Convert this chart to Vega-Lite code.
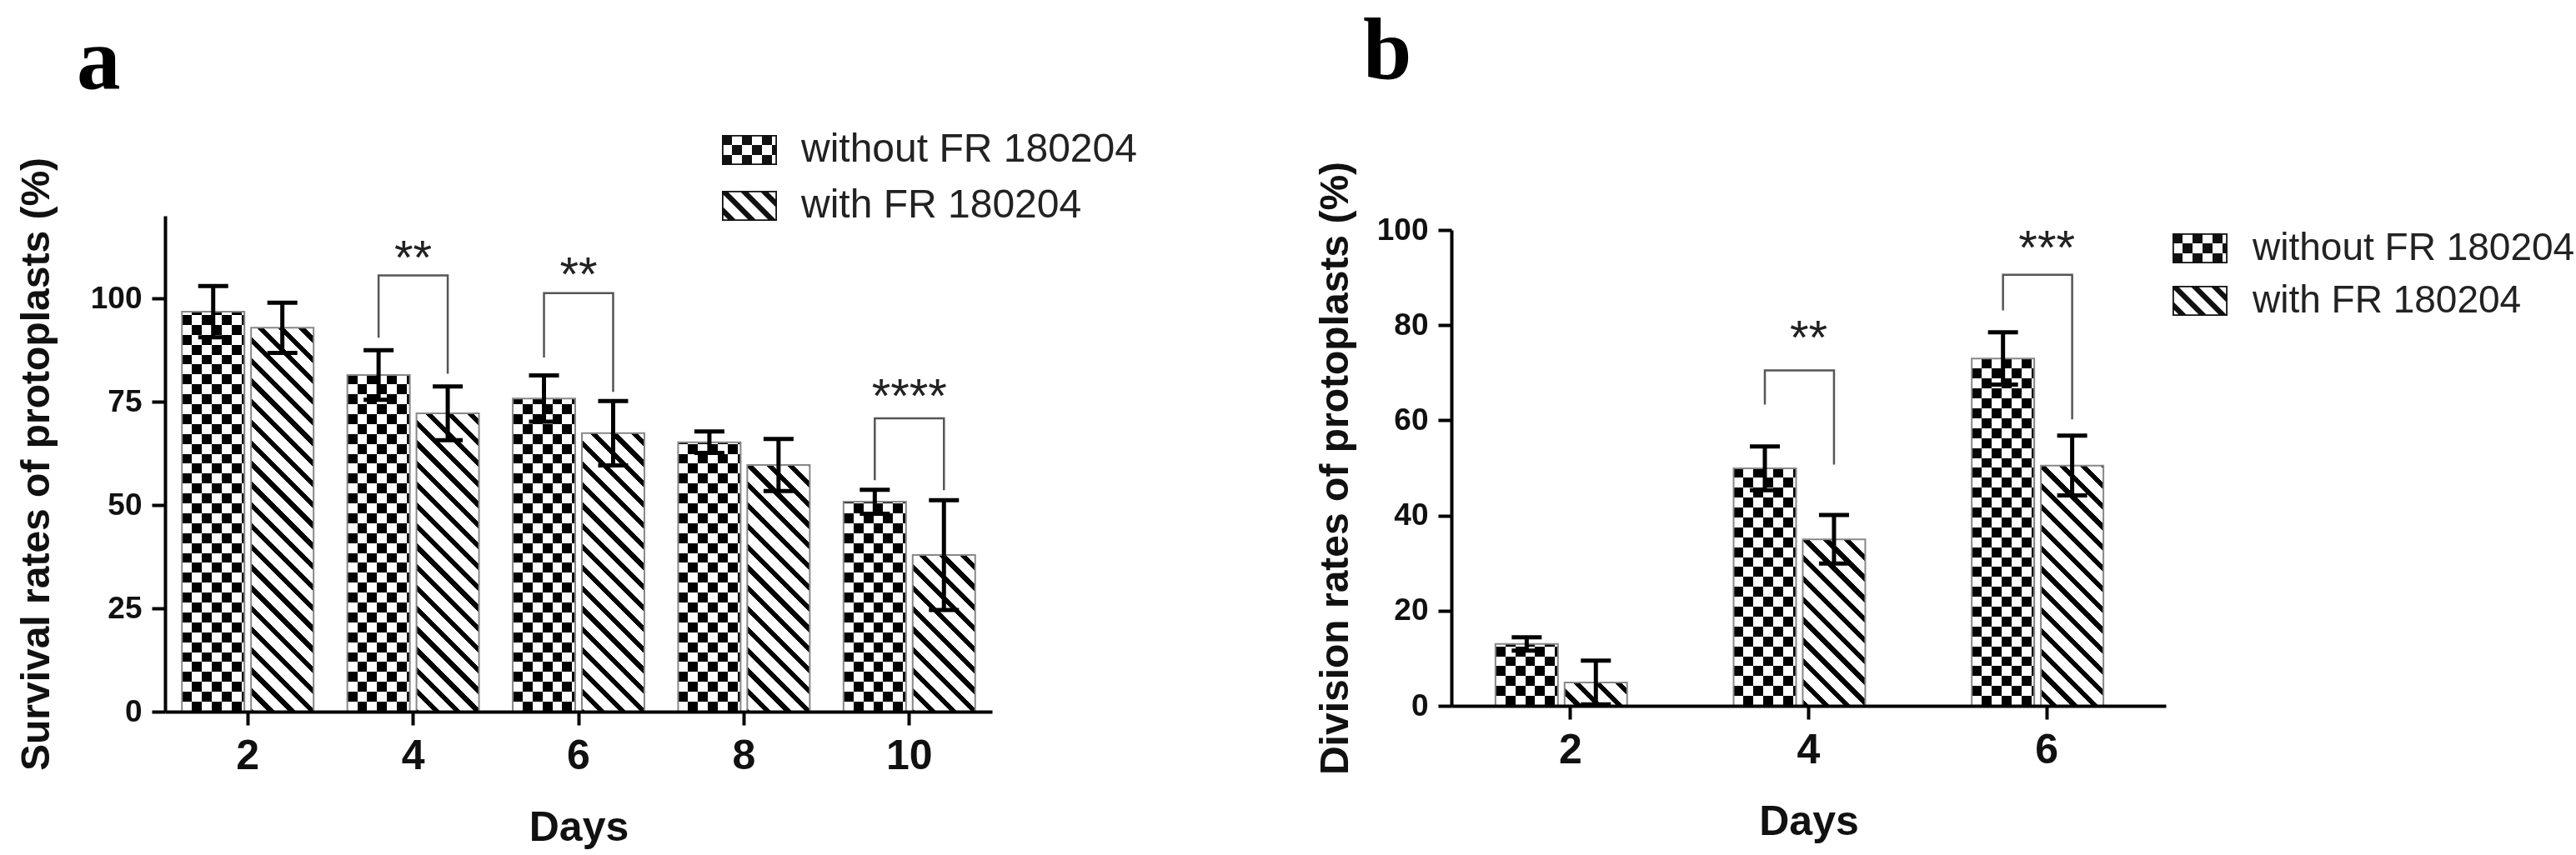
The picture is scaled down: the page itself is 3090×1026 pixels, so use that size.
{
"$schema":"https://vega.github.io/schema/vega-lite/v6.json",
"background":"white",
"padding":{"left":20,"top":10,"right":5,"bottom":5},
"bounds":"flush",
"spacing":551,
"resolve":{"scale":{"shape":"independent"},"legend":{"shape":"independent"}},
"config":{
 "view":{"stroke":null},
 "font":"Liberation Sans",
 "axis":{"domainColor":"#000","domainWidth":4,"tickColor":"#000","tickWidth":4,"tickSize":16,"labelFont":"Liberation Sans","titleFont":"Liberation Sans","labelFontWeight":"bold","labelColor":"#111","titleFontWeight":"bold","titleColor":"#111","grid":false,"zindex":2},
 "axisX":{"labelFontSize":50,"titleFontSize":50,"labelAngle":0,"labelPadding":12,"titlePadding":36},
 "axisY":{"labelFontSize":37,"titleFontSize":48,"labelPadding":12},
 "legend":{"labelFont":"Liberation Sans","labelColor":"#222"},
 "title":{"font":"Liberation Serif","fontSize":105,"fontWeight":"bold","color":"#000","anchor":"start","frame":"group"}
},
"datasets":{
 "survival":[
  {"Day":"2","Treatment":"without FR 180204","mean":96.8,"lo":90.6,"hi":103.0},
  {"Day":"2","Treatment":"with FR 180204","mean":92.9,"lo":86.8,"hi":99.0},
  {"Day":"4","Treatment":"without FR 180204","mean":81.5,"lo":75.5,"hi":87.5},
  {"Day":"4","Treatment":"with FR 180204","mean":72.2,"lo":65.7,"hi":78.7},
  {"Day":"6","Treatment":"without FR 180204","mean":75.8,"lo":70.2,"hi":81.4},
  {"Day":"6","Treatment":"with FR 180204","mean":67.4,"lo":59.6,"hi":75.2},
  {"Day":"8","Treatment":"without FR 180204","mean":65.2,"lo":62.6,"hi":67.8},
  {"Day":"8","Treatment":"with FR 180204","mean":59.7,"lo":53.4,"hi":66.0},
  {"Day":"10","Treatment":"without FR 180204","mean":50.8,"lo":47.9,"hi":53.7},
  {"Day":"10","Treatment":"with FR 180204","mean":37.9,"lo":24.6,"hi":51.2}
 ],
 "division":[
  {"Day":"2","Treatment":"without FR 180204","mean":13.0,"lo":11.6,"hi":14.4},
  {"Day":"2","Treatment":"with FR 180204","mean":4.9,"lo":0.3,"hi":9.5},
  {"Day":"4","Treatment":"without FR 180204","mean":49.9,"lo":45.3,"hi":54.5},
  {"Day":"4","Treatment":"with FR 180204","mean":35.0,"lo":29.9,"hi":40.1},
  {"Day":"6","Treatment":"without FR 180204","mean":73.0,"lo":67.5,"hi":78.5},
  {"Day":"6","Treatment":"with FR 180204","mean":50.5,"lo":44.2,"hi":56.8}
 ],
 "bracketsA":[
  {"id":"d4","Day":"4","Treatment":"without FR 180204","y":90.5,"seq":1},
  {"id":"d4","Day":"4","Treatment":"without FR 180204","y":105.6,"seq":2},
  {"id":"d4","Day":"4","Treatment":"with FR 180204","y":105.6,"seq":3},
  {"id":"d4","Day":"4","Treatment":"with FR 180204","y":81.8,"seq":4},
  {"id":"d6","Day":"6","Treatment":"without FR 180204","y":85.7,"seq":1},
  {"id":"d6","Day":"6","Treatment":"without FR 180204","y":101.3,"seq":2},
  {"id":"d6","Day":"6","Treatment":"with FR 180204","y":101.3,"seq":3},
  {"id":"d6","Day":"6","Treatment":"with FR 180204","y":77.4,"seq":4},
  {"id":"d10","Day":"10","Treatment":"without FR 180204","y":56.0,"seq":1},
  {"id":"d10","Day":"10","Treatment":"without FR 180204","y":71.0,"seq":2},
  {"id":"d10","Day":"10","Treatment":"with FR 180204","y":71.0,"seq":3},
  {"id":"d10","Day":"10","Treatment":"with FR 180204","y":53.6,"seq":4}
 ],
 "bracketsB":[
  {"id":"d4","Day":"4","Treatment":"without FR 180204","y":63.3,"seq":1},
  {"id":"d4","Day":"4","Treatment":"without FR 180204","y":70.5,"seq":2},
  {"id":"d4","Day":"4","Treatment":"with FR 180204","y":70.5,"seq":3},
  {"id":"d4","Day":"4","Treatment":"with FR 180204","y":50.7,"seq":4},
  {"id":"d6","Day":"6","Treatment":"without FR 180204","y":83.1,"seq":1},
  {"id":"d6","Day":"6","Treatment":"without FR 180204","y":90.6,"seq":2},
  {"id":"d6","Day":"6","Treatment":"with FR 180204","y":90.6,"seq":3},
  {"id":"d6","Day":"6","Treatment":"with FR 180204","y":60.2,"seq":4}
 ],
 "starsA":[
  {"Day":"4","label":"**","y":112.4},
  {"Day":"6","label":"**","y":108.3},
  {"Day":"10","label":"****","y":78.8}
 ],
 "starsB":[
  {"Day":"4","label":"**","y":79.5},
  {"Day":"6","label":"***","y":98.5}
 ]
},
"hconcat":[
 {
  "width":992,"height":595,
  "title":{"text":"a","dx":-106,"offset":28},
  "layer":[
   {"data":{"name":"survival"},"transform":[{"filter":{"field":"Treatment","equal":"without FR 180204"}}],
    "mark":{"type":"bar","fill":"#808080","stroke":null},
    "encoding":{
     "x":{"field":"Day","type":"nominal","title":"Days","scale":{"domain":["2","4","6","8","10"],"paddingInner":0.204,"paddingOuter":0.102},"axis":{"labelPadding":12,"titlePadding":36,"zindex":2}},
     "xOffset":{"field":"Treatment","type":"nominal","scale":{"domain":["without FR 180204","with FR 180204"],"paddingInner":0.096,"paddingOuter":0}},
     "y":{"field":"mean","type":"quantitative","title":"Survival rates of protoplasts (%)","scale":{"domain":[0,120],"nice":false},"axis":{"values":[0,25,50,75,100],"titlePadding":40,"zindex":2}}}},
   {"data":{"values":[{}]},
    "mark":{"type":"rect","blend":"overlay","fill":{"gradient":"linear","x1":0,"y1":0,"x2":0,"y2":1,"stops":[{"offset":0,"color":"#000"},{"offset":0.02,"color":"#000"},{"offset":0.02,"color":"#fff"},{"offset":0.04,"color":"#fff"},{"offset":0.04,"color":"#000"},{"offset":0.06,"color":"#000"},{"offset":0.06,"color":"#fff"},{"offset":0.08,"color":"#fff"},{"offset":0.08,"color":"#000"},{"offset":0.1,"color":"#000"},{"offset":0.1,"color":"#fff"},{"offset":0.12,"color":"#fff"},{"offset":0.12,"color":"#000"},{"offset":0.14,"color":"#000"},{"offset":0.14,"color":"#fff"},{"offset":0.16,"color":"#fff"},{"offset":0.16,"color":"#000"},{"offset":0.18,"color":"#000"},{"offset":0.18,"color":"#fff"},{"offset":0.2,"color":"#fff"},{"offset":0.2,"color":"#000"},{"offset":0.22,"color":"#000"},{"offset":0.22,"color":"#fff"},{"offset":0.24,"color":"#fff"},{"offset":0.24,"color":"#000"},{"offset":0.26,"color":"#000"},{"offset":0.26,"color":"#fff"},{"offset":0.28,"color":"#fff"},{"offset":0.28,"color":"#000"},{"offset":0.3,"color":"#000"},{"offset":0.3,"color":"#fff"},{"offset":0.32,"color":"#fff"},{"offset":0.32,"color":"#000"},{"offset":0.34,"color":"#000"},{"offset":0.34,"color":"#fff"},{"offset":0.36,"color":"#fff"},{"offset":0.36,"color":"#000"},{"offset":0.38,"color":"#000"},{"offset":0.38,"color":"#fff"},{"offset":0.4,"color":"#fff"},{"offset":0.4,"color":"#000"},{"offset":0.42,"color":"#000"},{"offset":0.42,"color":"#fff"},{"offset":0.44,"color":"#fff"},{"offset":0.44,"color":"#000"},{"offset":0.46,"color":"#000"},{"offset":0.46,"color":"#fff"},{"offset":0.48,"color":"#fff"},{"offset":0.48,"color":"#000"},{"offset":0.5,"color":"#000"},{"offset":0.5,"color":"#fff"},{"offset":0.52,"color":"#fff"},{"offset":0.52,"color":"#000"},{"offset":0.54,"color":"#000"},{"offset":0.54,"color":"#fff"},{"offset":0.56,"color":"#fff"},{"offset":0.56,"color":"#000"},{"offset":0.58,"color":"#000"},{"offset":0.58,"color":"#fff"},{"offset":0.6,"color":"#fff"},{"offset":0.6,"color":"#000"},{"offset":0.62,"color":"#000"},{"offset":0.62,"color":"#fff"},{"offset":0.64,"color":"#fff"},{"offset":0.64,"color":"#000"},{"offset":0.66,"color":"#000"},{"offset":0.66,"color":"#fff"},{"offset":0.68,"color":"#fff"},{"offset":0.68,"color":"#000"},{"offset":0.7,"color":"#000"},{"offset":0.7,"color":"#fff"},{"offset":0.72,"color":"#fff"},{"offset":0.72,"color":"#000"},{"offset":0.74,"color":"#000"},{"offset":0.74,"color":"#fff"},{"offset":0.76,"color":"#fff"},{"offset":0.76,"color":"#000"},{"offset":0.78,"color":"#000"},{"offset":0.78,"color":"#fff"},{"offset":0.8,"color":"#fff"},{"offset":0.8,"color":"#000"},{"offset":0.82,"color":"#000"},{"offset":0.82,"color":"#fff"},{"offset":0.84,"color":"#fff"},{"offset":0.84,"color":"#000"},{"offset":0.86,"color":"#000"},{"offset":0.86,"color":"#fff"},{"offset":0.88,"color":"#fff"},{"offset":0.88,"color":"#000"},{"offset":0.9,"color":"#000"},{"offset":0.9,"color":"#fff"},{"offset":0.92,"color":"#fff"},{"offset":0.92,"color":"#000"},{"offset":0.94,"color":"#000"},{"offset":0.94,"color":"#fff"},{"offset":0.96,"color":"#fff"},{"offset":0.96,"color":"#000"},{"offset":0.98,"color":"#000"},{"offset":0.98,"color":"#fff"},{"offset":1,"color":"#fff"}]}},
    "encoding":{"y":{"datum":0,"type":"quantitative","title":"Survival rates of protoplasts (%)","scale":{"domain":[0,120],"nice":false}},"y2":{"datum":120}}},
   {"data":{"name":"survival"},"transform":[{"filter":{"field":"Treatment","equal":"without FR 180204"}}],
    "mark":{"type":"bar","blend":"difference","stroke":null,"fill":{"gradient":"linear","x1":0,"y1":0,"x2":1,"y2":0,"stops":[{"offset":0,"color":"#000"},{"offset":0.159,"color":"#000"},{"offset":0.159,"color":"#fff"},{"offset":0.317,"color":"#fff"},{"offset":0.317,"color":"#000"},{"offset":0.476,"color":"#000"},{"offset":0.476,"color":"#fff"},{"offset":0.635,"color":"#fff"},{"offset":0.635,"color":"#000"},{"offset":0.793,"color":"#000"},{"offset":0.793,"color":"#fff"},{"offset":0.952,"color":"#fff"},{"offset":0.952,"color":"#000"},{"offset":1,"color":"#000"}]}},
    "encoding":{
     "x":{"field":"Day","type":"nominal","title":"Days","scale":{"domain":["2","4","6","8","10"],"paddingInner":0.204,"paddingOuter":0.102}},
     "xOffset":{"field":"Treatment","type":"nominal","scale":{"domain":["without FR 180204","with FR 180204"],"paddingInner":0.096,"paddingOuter":0}},
     "y":{"field":"mean","type":"quantitative","title":"Survival rates of protoplasts (%)","scale":{"domain":[0,120],"nice":false}}}},
   {"data":{"name":"survival"},"transform":[{"filter":{"field":"Treatment","equal":"with FR 180204"}}],
    "mark":{"type":"bar","fill":"#808080","stroke":null},
    "encoding":{
     "x":{"field":"Day","type":"nominal","title":"Days","scale":{"domain":["2","4","6","8","10"],"paddingInner":0.204,"paddingOuter":0.102}},
     "xOffset":{"field":"Treatment","type":"nominal","scale":{"domain":["without FR 180204","with FR 180204"],"paddingInner":0.096,"paddingOuter":0}},
     "y":{"field":"mean","type":"quantitative","title":"Survival rates of protoplasts (%)","scale":{"domain":[0,120],"nice":false}}}},
   {"data":{"values":[{}]},
    "mark":{"type":"rect","blend":"overlay","fill":{"gradient":"linear","x1":0,"y1":1,"x2":1.17651,"y2":0.29433,"stops":[{"offset":0.046875,"color":"#000"},{"offset":0.052083,"color":"#000"},{"offset":0.052083,"color":"#fff"},{"offset":0.0625,"color":"#fff"},{"offset":0.0625,"color":"#000"},{"offset":0.067708,"color":"#000"},{"offset":0.067708,"color":"#fff"},{"offset":0.078125,"color":"#fff"},{"offset":0.078125,"color":"#000"},{"offset":0.083333,"color":"#000"},{"offset":0.083333,"color":"#fff"},{"offset":0.09375,"color":"#fff"},{"offset":0.09375,"color":"#000"},{"offset":0.098958,"color":"#000"},{"offset":0.098958,"color":"#fff"},{"offset":0.109375,"color":"#fff"},{"offset":0.109375,"color":"#000"},{"offset":0.114583,"color":"#000"},{"offset":0.114583,"color":"#fff"},{"offset":0.125,"color":"#fff"},{"offset":0.125,"color":"#000"},{"offset":0.130208,"color":"#000"},{"offset":0.130208,"color":"#fff"},{"offset":0.140625,"color":"#fff"},{"offset":0.140625,"color":"#000"},{"offset":0.145833,"color":"#000"},{"offset":0.145833,"color":"#fff"},{"offset":0.15625,"color":"#fff"},{"offset":0.15625,"color":"#000"},{"offset":0.161458,"color":"#000"},{"offset":0.161458,"color":"#fff"},{"offset":0.171875,"color":"#fff"},{"offset":0.171875,"color":"#000"},{"offset":0.177083,"color":"#000"},{"offset":0.177083,"color":"#fff"},{"offset":0.1875,"color":"#fff"},{"offset":0.1875,"color":"#000"},{"offset":0.192708,"color":"#000"},{"offset":0.192708,"color":"#fff"},{"offset":0.203125,"color":"#fff"},{"offset":0.203125,"color":"#000"},{"offset":0.208333,"color":"#000"},{"offset":0.208333,"color":"#fff"},{"offset":0.21875,"color":"#fff"},{"offset":0.21875,"color":"#000"},{"offset":0.223958,"color":"#000"},{"offset":0.223958,"color":"#fff"},{"offset":0.234375,"color":"#fff"},{"offset":0.234375,"color":"#000"},{"offset":0.239583,"color":"#000"},{"offset":0.239583,"color":"#fff"},{"offset":0.25,"color":"#fff"},{"offset":0.25,"color":"#000"},{"offset":0.255208,"color":"#000"},{"offset":0.255208,"color":"#fff"},{"offset":0.265625,"color":"#fff"},{"offset":0.265625,"color":"#000"},{"offset":0.270833,"color":"#000"},{"offset":0.270833,"color":"#fff"},{"offset":0.28125,"color":"#fff"},{"offset":0.28125,"color":"#000"},{"offset":0.286458,"color":"#000"},{"offset":0.286458,"color":"#fff"},{"offset":0.296875,"color":"#fff"},{"offset":0.296875,"color":"#000"},{"offset":0.302083,"color":"#000"},{"offset":0.302083,"color":"#fff"},{"offset":0.3125,"color":"#fff"},{"offset":0.3125,"color":"#000"},{"offset":0.317708,"color":"#000"},{"offset":0.317708,"color":"#fff"},{"offset":0.328125,"color":"#fff"},{"offset":0.328125,"color":"#000"},{"offset":0.333333,"color":"#000"},{"offset":0.333333,"color":"#fff"},{"offset":0.34375,"color":"#fff"},{"offset":0.34375,"color":"#000"},{"offset":0.348958,"color":"#000"},{"offset":0.348958,"color":"#fff"},{"offset":0.359375,"color":"#fff"},{"offset":0.359375,"color":"#000"},{"offset":0.364583,"color":"#000"},{"offset":0.364583,"color":"#fff"},{"offset":0.375,"color":"#fff"},{"offset":0.375,"color":"#000"},{"offset":0.380208,"color":"#000"},{"offset":0.380208,"color":"#fff"},{"offset":0.390625,"color":"#fff"},{"offset":0.390625,"color":"#000"},{"offset":0.395833,"color":"#000"},{"offset":0.395833,"color":"#fff"},{"offset":0.40625,"color":"#fff"},{"offset":0.40625,"color":"#000"},{"offset":0.411458,"color":"#000"},{"offset":0.411458,"color":"#fff"},{"offset":0.421875,"color":"#fff"},{"offset":0.421875,"color":"#000"},{"offset":0.427083,"color":"#000"},{"offset":0.427083,"color":"#fff"},{"offset":0.4375,"color":"#fff"},{"offset":0.4375,"color":"#000"},{"offset":0.442708,"color":"#000"},{"offset":0.442708,"color":"#fff"},{"offset":0.453125,"color":"#fff"},{"offset":0.453125,"color":"#000"},{"offset":0.458333,"color":"#000"},{"offset":0.458333,"color":"#fff"},{"offset":0.46875,"color":"#fff"},{"offset":0.46875,"color":"#000"},{"offset":0.473958,"color":"#000"},{"offset":0.473958,"color":"#fff"},{"offset":0.484375,"color":"#fff"},{"offset":0.484375,"color":"#000"},{"offset":0.489583,"color":"#000"},{"offset":0.489583,"color":"#fff"},{"offset":0.5,"color":"#fff"},{"offset":0.5,"color":"#000"},{"offset":0.505208,"color":"#000"},{"offset":0.505208,"color":"#fff"},{"offset":0.515625,"color":"#fff"},{"offset":0.515625,"color":"#000"},{"offset":0.520833,"color":"#000"},{"offset":0.520833,"color":"#fff"},{"offset":0.53125,"color":"#fff"},{"offset":0.53125,"color":"#000"},{"offset":0.536458,"color":"#000"},{"offset":0.536458,"color":"#fff"},{"offset":0.546875,"color":"#fff"},{"offset":0.546875,"color":"#000"},{"offset":0.552083,"color":"#000"},{"offset":0.552083,"color":"#fff"},{"offset":0.5625,"color":"#fff"},{"offset":0.5625,"color":"#000"},{"offset":0.567708,"color":"#000"},{"offset":0.567708,"color":"#fff"},{"offset":0.578125,"color":"#fff"},{"offset":0.578125,"color":"#000"},{"offset":0.583333,"color":"#000"},{"offset":0.583333,"color":"#fff"},{"offset":0.59375,"color":"#fff"},{"offset":0.59375,"color":"#000"},{"offset":0.598958,"color":"#000"},{"offset":0.598958,"color":"#fff"},{"offset":0.609375,"color":"#fff"},{"offset":0.609375,"color":"#000"},{"offset":0.614583,"color":"#000"},{"offset":0.614583,"color":"#fff"},{"offset":0.625,"color":"#fff"},{"offset":0.625,"color":"#000"},{"offset":0.630208,"color":"#000"},{"offset":0.630208,"color":"#fff"},{"offset":0.640625,"color":"#fff"},{"offset":0.640625,"color":"#000"},{"offset":0.645833,"color":"#000"},{"offset":0.645833,"color":"#fff"},{"offset":0.65625,"color":"#fff"},{"offset":0.65625,"color":"#000"},{"offset":0.661458,"color":"#000"},{"offset":0.661458,"color":"#fff"},{"offset":0.671875,"color":"#fff"},{"offset":0.671875,"color":"#000"},{"offset":0.677083,"color":"#000"},{"offset":0.677083,"color":"#fff"},{"offset":0.6875,"color":"#fff"},{"offset":0.6875,"color":"#000"},{"offset":0.692708,"color":"#000"},{"offset":0.692708,"color":"#fff"},{"offset":0.703125,"color":"#fff"},{"offset":0.703125,"color":"#000"},{"offset":0.708333,"color":"#000"},{"offset":0.708333,"color":"#fff"},{"offset":0.71875,"color":"#fff"},{"offset":0.71875,"color":"#000"},{"offset":0.723958,"color":"#000"},{"offset":0.723958,"color":"#fff"},{"offset":0.734375,"color":"#fff"},{"offset":0.734375,"color":"#000"},{"offset":0.739583,"color":"#000"},{"offset":0.739583,"color":"#fff"},{"offset":0.75,"color":"#fff"}]}},
    "encoding":{"y":{"datum":0,"type":"quantitative","title":"Survival rates of protoplasts (%)","scale":{"domain":[0,120],"nice":false}},"y2":{"datum":120}}},
   {"data":{"name":"survival"},
    "mark":{"type":"bar","fillOpacity":0,"stroke":"#888","strokeWidth":2},
    "encoding":{
     "x":{"field":"Day","type":"nominal","title":"Days","scale":{"domain":["2","4","6","8","10"],"paddingInner":0.204,"paddingOuter":0.102}},
     "xOffset":{"field":"Treatment","type":"nominal","scale":{"domain":["without FR 180204","with FR 180204"],"paddingInner":0.096,"paddingOuter":0}},
     "y":{"field":"mean","type":"quantitative","title":"Survival rates of protoplasts (%)","scale":{"domain":[0,120],"nice":false}}}},
   {"data":{"name":"survival"},
    "mark":{"type":"rule","stroke":"#000","strokeWidth":5},
    "encoding":{
     "x":{"field":"Day","type":"nominal","title":"Days","scale":{"domain":["2","4","6","8","10"],"paddingInner":0.204,"paddingOuter":0.102}},
     "xOffset":{"field":"Treatment","type":"nominal","scale":{"domain":["without FR 180204","with FR 180204"],"paddingInner":0.096,"paddingOuter":0}},
     "y":{"field":"lo","type":"quantitative","title":"Survival rates of protoplasts (%)","scale":{"domain":[0,120],"nice":false}},
     "y2":{"field":"hi"}}},
   {"data":{"name":"survival"},
    "mark":{"type":"tick","color":"#000","size":36,"thickness":5,"opacity":1},
    "encoding":{
     "x":{"field":"Day","type":"nominal","title":"Days","scale":{"domain":["2","4","6","8","10"],"paddingInner":0.204,"paddingOuter":0.102}},
     "xOffset":{"field":"Treatment","type":"nominal","scale":{"domain":["without FR 180204","with FR 180204"],"paddingInner":0.096,"paddingOuter":0}},
     "y":{"field":"lo","type":"quantitative","title":"Survival rates of protoplasts (%)","scale":{"domain":[0,120],"nice":false}}}},
   {"data":{"name":"survival"},
    "mark":{"type":"tick","color":"#000","size":36,"thickness":5,"opacity":1},
    "encoding":{
     "x":{"field":"Day","type":"nominal","title":"Days","scale":{"domain":["2","4","6","8","10"],"paddingInner":0.204,"paddingOuter":0.102}},
     "xOffset":{"field":"Treatment","type":"nominal","scale":{"domain":["without FR 180204","with FR 180204"],"paddingInner":0.096,"paddingOuter":0}},
     "y":{"field":"hi","type":"quantitative","title":"Survival rates of protoplasts (%)","scale":{"domain":[0,120],"nice":false}}}},
   {"data":{"name":"bracketsA"},
    "mark":{"type":"line","stroke":"#555","strokeWidth":2.5},
    "encoding":{
     "x":{"field":"Day","type":"nominal","title":"Days","scale":{"domain":["2","4","6","8","10"],"paddingInner":0.204,"paddingOuter":0.102}},
     "xOffset":{"field":"Treatment","type":"nominal","scale":{"domain":["without FR 180204","with FR 180204"],"paddingInner":0.096,"paddingOuter":0}},
     "y":{"field":"y","type":"quantitative","title":"Survival rates of protoplasts (%)","scale":{"domain":[0,120],"nice":false}},
     "detail":{"field":"id"},
     "order":{"field":"seq","type":"quantitative"}}},
   {"data":{"name":"starsA"},
    "mark":{"type":"text","font":"Liberation Sans","fontSize":58,"color":"#222","baseline":"alphabetic","dy":32},
    "encoding":{
     "x":{"field":"Day","type":"nominal","title":"Days","scale":{"domain":["2","4","6","8","10"],"paddingInner":0.204,"paddingOuter":0.102}},
     "y":{"field":"y","type":"quantitative","title":"Survival rates of protoplasts (%)","scale":{"domain":[0,120],"nice":false}},
     "text":{"field":"label"}}},
   {"data":{"name":"survival"},
    "mark":{"type":"point","filled":true,"opacity":0,"size":10,"color":"#111"},
    "encoding":{
     "x":{"field":"Day","type":"nominal","title":"Days","scale":{"domain":["2","4","6","8","10"],"paddingInner":0.204,"paddingOuter":0.102}},
     "xOffset":{"field":"Treatment","type":"nominal","scale":{"domain":["without FR 180204","with FR 180204"],"paddingInner":0.096,"paddingOuter":0}},
     "y":{"field":"mean","type":"quantitative","title":"Survival rates of protoplasts (%)","scale":{"domain":[0,120],"nice":false}},
     "shape":{"field":"Treatment","type":"nominal","scale":{"domain":["without FR 180204","with FR 180204"],"range":["M-5.5,-3H5.5V3H-5.5Z M-5.2,-2.7V2.7H5.2V-2.7Z M-5.5,-3h2v2h-2Z M-1.5,-3h2v2h-2Z M2.5,-3h2v2h-2Z M-3.5,-1h2v2h-2Z M0.5,-1h2v2h-2Z M4.5,-1h1v2h-1Z M-5.5,1h2v2h-2Z M-1.5,1h2v2h-2Z M2.5,1h2v2h-2Z","M-5.5,-3H5.5V3H-5.5Z M-5.2,-2.7V2.7H5.2V-2.7Z M-5.5,0L-2.5,3L-4,3L-5.5,1.5Z M-5.5,-2.5L-5.5,-3L-4.5,-3L1.5,3L0,3Z M-2,-3L-0.5,-3L5.5,3L4,3Z M2,-3L3.5,-3L5.5,-1L5.5,0.5Z"]},
      "legend":{"orient":"none","legendX":677,"legendY":-103,"title":null,"symbolSize":144,"symbolFillColor":"#111","labelFontSize":48,"labelOffset":38,"rowPadding":19,"labelLimit":2000,"padding":0,
       "encode":{"symbols":{"update":{"fill":{"value":"#111"},"opacity":{"value":1},"fillOpacity":{"value":1},"strokeWidth":{"value":0}}}}}}}}
  ]
 },
 {
  "width":857,"height":588,
  "title":{"text":"b","dx":-106,"offset":0},
  "layer":[
   {"data":{"name":"division"},"transform":[{"filter":{"field":"Treatment","equal":"without FR 180204"}}],
    "mark":{"type":"bar","fill":"#808080","stroke":null},
    "encoding":{
     "x":{"field":"Day","type":"nominal","title":"Days","scale":{"domain":["2","4","6"],"paddingInner":0.37,"paddingOuter":0.185},"axis":{"labelPadding":12,"titlePadding":36,"zindex":2}},
     "xOffset":{"field":"Treatment","type":"nominal","scale":{"domain":["without FR 180204","with FR 180204"],"paddingInner":0.302,"paddingOuter":0}},
     "y":{"field":"mean","type":"quantitative","title":"Division rates of protoplasts (%)","scale":{"domain":[0,100],"range":[588,17],"nice":false},"axis":{"values":[0,20,40,60,80,100],"titlePadding":25,"zindex":2}}}},
   {"data":{"values":[{}]},
    "mark":{"type":"rect","blend":"overlay","fill":{"gradient":"linear","x1":0,"y1":0,"x2":0,"y2":1,"stops":[{"offset":0,"color":"#000"},{"offset":0.02,"color":"#000"},{"offset":0.02,"color":"#fff"},{"offset":0.04,"color":"#fff"},{"offset":0.04,"color":"#000"},{"offset":0.06,"color":"#000"},{"offset":0.06,"color":"#fff"},{"offset":0.08,"color":"#fff"},{"offset":0.08,"color":"#000"},{"offset":0.1,"color":"#000"},{"offset":0.1,"color":"#fff"},{"offset":0.12,"color":"#fff"},{"offset":0.12,"color":"#000"},{"offset":0.14,"color":"#000"},{"offset":0.14,"color":"#fff"},{"offset":0.16,"color":"#fff"},{"offset":0.16,"color":"#000"},{"offset":0.18,"color":"#000"},{"offset":0.18,"color":"#fff"},{"offset":0.2,"color":"#fff"},{"offset":0.2,"color":"#000"},{"offset":0.22,"color":"#000"},{"offset":0.22,"color":"#fff"},{"offset":0.24,"color":"#fff"},{"offset":0.24,"color":"#000"},{"offset":0.26,"color":"#000"},{"offset":0.26,"color":"#fff"},{"offset":0.28,"color":"#fff"},{"offset":0.28,"color":"#000"},{"offset":0.3,"color":"#000"},{"offset":0.3,"color":"#fff"},{"offset":0.32,"color":"#fff"},{"offset":0.32,"color":"#000"},{"offset":0.34,"color":"#000"},{"offset":0.34,"color":"#fff"},{"offset":0.36,"color":"#fff"},{"offset":0.36,"color":"#000"},{"offset":0.38,"color":"#000"},{"offset":0.38,"color":"#fff"},{"offset":0.4,"color":"#fff"},{"offset":0.4,"color":"#000"},{"offset":0.42,"color":"#000"},{"offset":0.42,"color":"#fff"},{"offset":0.44,"color":"#fff"},{"offset":0.44,"color":"#000"},{"offset":0.46,"color":"#000"},{"offset":0.46,"color":"#fff"},{"offset":0.48,"color":"#fff"},{"offset":0.48,"color":"#000"},{"offset":0.5,"color":"#000"},{"offset":0.5,"color":"#fff"},{"offset":0.52,"color":"#fff"},{"offset":0.52,"color":"#000"},{"offset":0.54,"color":"#000"},{"offset":0.54,"color":"#fff"},{"offset":0.56,"color":"#fff"},{"offset":0.56,"color":"#000"},{"offset":0.58,"color":"#000"},{"offset":0.58,"color":"#fff"},{"offset":0.6,"color":"#fff"},{"offset":0.6,"color":"#000"},{"offset":0.62,"color":"#000"},{"offset":0.62,"color":"#fff"},{"offset":0.64,"color":"#fff"},{"offset":0.64,"color":"#000"},{"offset":0.66,"color":"#000"},{"offset":0.66,"color":"#fff"},{"offset":0.68,"color":"#fff"},{"offset":0.68,"color":"#000"},{"offset":0.7,"color":"#000"},{"offset":0.7,"color":"#fff"},{"offset":0.72,"color":"#fff"},{"offset":0.72,"color":"#000"},{"offset":0.74,"color":"#000"},{"offset":0.74,"color":"#fff"},{"offset":0.76,"color":"#fff"},{"offset":0.76,"color":"#000"},{"offset":0.78,"color":"#000"},{"offset":0.78,"color":"#fff"},{"offset":0.8,"color":"#fff"},{"offset":0.8,"color":"#000"},{"offset":0.82,"color":"#000"},{"offset":0.82,"color":"#fff"},{"offset":0.84,"color":"#fff"},{"offset":0.84,"color":"#000"},{"offset":0.86,"color":"#000"},{"offset":0.86,"color":"#fff"},{"offset":0.88,"color":"#fff"},{"offset":0.88,"color":"#000"},{"offset":0.9,"color":"#000"},{"offset":0.9,"color":"#fff"},{"offset":0.92,"color":"#fff"},{"offset":0.92,"color":"#000"},{"offset":0.94,"color":"#000"},{"offset":0.94,"color":"#fff"},{"offset":0.96,"color":"#fff"},{"offset":0.96,"color":"#000"},{"offset":0.98,"color":"#000"},{"offset":0.98,"color":"#fff"},{"offset":1,"color":"#fff"}]}},
    "encoding":{"y":{"datum":0,"type":"quantitative","title":"Division rates of protoplasts (%)","scale":{"domain":[0,100],"range":[588,17],"nice":false}},"y2":{"datum":104.2}}},
   {"data":{"name":"division"},"transform":[{"filter":{"field":"Treatment","equal":"without FR 180204"}}],
    "mark":{"type":"bar","blend":"difference","stroke":null,"fill":{"gradient":"linear","x1":0,"y1":0,"x2":1,"y2":0,"stops":[{"offset":0,"color":"#000"},{"offset":0.159,"color":"#000"},{"offset":0.159,"color":"#fff"},{"offset":0.317,"color":"#fff"},{"offset":0.317,"color":"#000"},{"offset":0.476,"color":"#000"},{"offset":0.476,"color":"#fff"},{"offset":0.635,"color":"#fff"},{"offset":0.635,"color":"#000"},{"offset":0.793,"color":"#000"},{"offset":0.793,"color":"#fff"},{"offset":0.952,"color":"#fff"},{"offset":0.952,"color":"#000"},{"offset":1,"color":"#000"}]}},
    "encoding":{
     "x":{"field":"Day","type":"nominal","title":"Days","scale":{"domain":["2","4","6"],"paddingInner":0.37,"paddingOuter":0.185}},
     "xOffset":{"field":"Treatment","type":"nominal","scale":{"domain":["without FR 180204","with FR 180204"],"paddingInner":0.302,"paddingOuter":0}},
     "y":{"field":"mean","type":"quantitative","title":"Division rates of protoplasts (%)","scale":{"domain":[0,100],"range":[588,17],"nice":false}}}},
   {"data":{"name":"division"},"transform":[{"filter":{"field":"Treatment","equal":"with FR 180204"}}],
    "mark":{"type":"bar","fill":"#808080","stroke":null},
    "encoding":{
     "x":{"field":"Day","type":"nominal","title":"Days","scale":{"domain":["2","4","6"],"paddingInner":0.37,"paddingOuter":0.185}},
     "xOffset":{"field":"Treatment","type":"nominal","scale":{"domain":["without FR 180204","with FR 180204"],"paddingInner":0.302,"paddingOuter":0}},
     "y":{"field":"mean","type":"quantitative","title":"Division rates of protoplasts (%)","scale":{"domain":[0,100],"range":[588,17],"nice":false}}}},
   {"data":{"values":[{}]},
    "mark":{"type":"rect","blend":"overlay","fill":{"gradient":"linear","x1":0,"y1":1,"x2":1.07315,"y2":0.08587,"stops":[{"offset":0.046875,"color":"#000"},{"offset":0.052083,"color":"#000"},{"offset":0.052083,"color":"#fff"},{"offset":0.0625,"color":"#fff"},{"offset":0.0625,"color":"#000"},{"offset":0.067708,"color":"#000"},{"offset":0.067708,"color":"#fff"},{"offset":0.078125,"color":"#fff"},{"offset":0.078125,"color":"#000"},{"offset":0.083333,"color":"#000"},{"offset":0.083333,"color":"#fff"},{"offset":0.09375,"color":"#fff"},{"offset":0.09375,"color":"#000"},{"offset":0.098958,"color":"#000"},{"offset":0.098958,"color":"#fff"},{"offset":0.109375,"color":"#fff"},{"offset":0.109375,"color":"#000"},{"offset":0.114583,"color":"#000"},{"offset":0.114583,"color":"#fff"},{"offset":0.125,"color":"#fff"},{"offset":0.125,"color":"#000"},{"offset":0.130208,"color":"#000"},{"offset":0.130208,"color":"#fff"},{"offset":0.140625,"color":"#fff"},{"offset":0.140625,"color":"#000"},{"offset":0.145833,"color":"#000"},{"offset":0.145833,"color":"#fff"},{"offset":0.15625,"color":"#fff"},{"offset":0.15625,"color":"#000"},{"offset":0.161458,"color":"#000"},{"offset":0.161458,"color":"#fff"},{"offset":0.171875,"color":"#fff"},{"offset":0.171875,"color":"#000"},{"offset":0.177083,"color":"#000"},{"offset":0.177083,"color":"#fff"},{"offset":0.1875,"color":"#fff"},{"offset":0.1875,"color":"#000"},{"offset":0.192708,"color":"#000"},{"offset":0.192708,"color":"#fff"},{"offset":0.203125,"color":"#fff"},{"offset":0.203125,"color":"#000"},{"offset":0.208333,"color":"#000"},{"offset":0.208333,"color":"#fff"},{"offset":0.21875,"color":"#fff"},{"offset":0.21875,"color":"#000"},{"offset":0.223958,"color":"#000"},{"offset":0.223958,"color":"#fff"},{"offset":0.234375,"color":"#fff"},{"offset":0.234375,"color":"#000"},{"offset":0.239583,"color":"#000"},{"offset":0.239583,"color":"#fff"},{"offset":0.25,"color":"#fff"},{"offset":0.25,"color":"#000"},{"offset":0.255208,"color":"#000"},{"offset":0.255208,"color":"#fff"},{"offset":0.265625,"color":"#fff"},{"offset":0.265625,"color":"#000"},{"offset":0.270833,"color":"#000"},{"offset":0.270833,"color":"#fff"},{"offset":0.28125,"color":"#fff"},{"offset":0.28125,"color":"#000"},{"offset":0.286458,"color":"#000"},{"offset":0.286458,"color":"#fff"},{"offset":0.296875,"color":"#fff"},{"offset":0.296875,"color":"#000"},{"offset":0.302083,"color":"#000"},{"offset":0.302083,"color":"#fff"},{"offset":0.3125,"color":"#fff"},{"offset":0.3125,"color":"#000"},{"offset":0.317708,"color":"#000"},{"offset":0.317708,"color":"#fff"},{"offset":0.328125,"color":"#fff"},{"offset":0.328125,"color":"#000"},{"offset":0.333333,"color":"#000"},{"offset":0.333333,"color":"#fff"},{"offset":0.34375,"color":"#fff"},{"offset":0.34375,"color":"#000"},{"offset":0.348958,"color":"#000"},{"offset":0.348958,"color":"#fff"},{"offset":0.359375,"color":"#fff"},{"offset":0.359375,"color":"#000"},{"offset":0.364583,"color":"#000"},{"offset":0.364583,"color":"#fff"},{"offset":0.375,"color":"#fff"},{"offset":0.375,"color":"#000"},{"offset":0.380208,"color":"#000"},{"offset":0.380208,"color":"#fff"},{"offset":0.390625,"color":"#fff"},{"offset":0.390625,"color":"#000"},{"offset":0.395833,"color":"#000"},{"offset":0.395833,"color":"#fff"},{"offset":0.40625,"color":"#fff"},{"offset":0.40625,"color":"#000"},{"offset":0.411458,"color":"#000"},{"offset":0.411458,"color":"#fff"},{"offset":0.421875,"color":"#fff"},{"offset":0.421875,"color":"#000"},{"offset":0.427083,"color":"#000"},{"offset":0.427083,"color":"#fff"},{"offset":0.4375,"color":"#fff"},{"offset":0.4375,"color":"#000"},{"offset":0.442708,"color":"#000"},{"offset":0.442708,"color":"#fff"},{"offset":0.453125,"color":"#fff"},{"offset":0.453125,"color":"#000"},{"offset":0.458333,"color":"#000"},{"offset":0.458333,"color":"#fff"},{"offset":0.46875,"color":"#fff"},{"offset":0.46875,"color":"#000"},{"offset":0.473958,"color":"#000"},{"offset":0.473958,"color":"#fff"},{"offset":0.484375,"color":"#fff"},{"offset":0.484375,"color":"#000"},{"offset":0.489583,"color":"#000"},{"offset":0.489583,"color":"#fff"},{"offset":0.5,"color":"#fff"},{"offset":0.5,"color":"#000"},{"offset":0.505208,"color":"#000"},{"offset":0.505208,"color":"#fff"},{"offset":0.515625,"color":"#fff"},{"offset":0.515625,"color":"#000"},{"offset":0.520833,"color":"#000"},{"offset":0.520833,"color":"#fff"},{"offset":0.53125,"color":"#fff"},{"offset":0.53125,"color":"#000"},{"offset":0.536458,"color":"#000"},{"offset":0.536458,"color":"#fff"},{"offset":0.546875,"color":"#fff"},{"offset":0.546875,"color":"#000"},{"offset":0.552083,"color":"#000"},{"offset":0.552083,"color":"#fff"},{"offset":0.5625,"color":"#fff"},{"offset":0.5625,"color":"#000"},{"offset":0.567708,"color":"#000"},{"offset":0.567708,"color":"#fff"},{"offset":0.578125,"color":"#fff"},{"offset":0.578125,"color":"#000"},{"offset":0.583333,"color":"#000"},{"offset":0.583333,"color":"#fff"},{"offset":0.59375,"color":"#fff"},{"offset":0.59375,"color":"#000"},{"offset":0.598958,"color":"#000"},{"offset":0.598958,"color":"#fff"},{"offset":0.609375,"color":"#fff"},{"offset":0.609375,"color":"#000"},{"offset":0.614583,"color":"#000"},{"offset":0.614583,"color":"#fff"},{"offset":0.625,"color":"#fff"},{"offset":0.625,"color":"#000"},{"offset":0.630208,"color":"#000"},{"offset":0.630208,"color":"#fff"},{"offset":0.640625,"color":"#fff"},{"offset":0.640625,"color":"#000"},{"offset":0.645833,"color":"#000"},{"offset":0.645833,"color":"#fff"},{"offset":0.65625,"color":"#fff"},{"offset":0.65625,"color":"#000"},{"offset":0.661458,"color":"#000"},{"offset":0.661458,"color":"#fff"},{"offset":0.671875,"color":"#fff"},{"offset":0.671875,"color":"#000"},{"offset":0.677083,"color":"#000"},{"offset":0.677083,"color":"#fff"},{"offset":0.6875,"color":"#fff"},{"offset":0.6875,"color":"#000"},{"offset":0.692708,"color":"#000"},{"offset":0.692708,"color":"#fff"},{"offset":0.703125,"color":"#fff"},{"offset":0.703125,"color":"#000"},{"offset":0.708333,"color":"#000"},{"offset":0.708333,"color":"#fff"},{"offset":0.71875,"color":"#fff"},{"offset":0.71875,"color":"#000"},{"offset":0.723958,"color":"#000"},{"offset":0.723958,"color":"#fff"},{"offset":0.734375,"color":"#fff"},{"offset":0.734375,"color":"#000"},{"offset":0.739583,"color":"#000"},{"offset":0.739583,"color":"#fff"},{"offset":0.75,"color":"#fff"}]}},
    "encoding":{"y":{"datum":0,"type":"quantitative","title":"Division rates of protoplasts (%)","scale":{"domain":[0,100],"range":[588,17],"nice":false}},"y2":{"datum":127.87}}},
   {"data":{"name":"division"},
    "mark":{"type":"bar","fillOpacity":0,"stroke":"#888","strokeWidth":2},
    "encoding":{
     "x":{"field":"Day","type":"nominal","title":"Days","scale":{"domain":["2","4","6"],"paddingInner":0.37,"paddingOuter":0.185}},
     "xOffset":{"field":"Treatment","type":"nominal","scale":{"domain":["without FR 180204","with FR 180204"],"paddingInner":0.302,"paddingOuter":0}},
     "y":{"field":"mean","type":"quantitative","title":"Division rates of protoplasts (%)","scale":{"domain":[0,100],"range":[588,17],"nice":false}}}},
   {"data":{"name":"division"},
    "mark":{"type":"rule","stroke":"#000","strokeWidth":5},
    "encoding":{
     "x":{"field":"Day","type":"nominal","title":"Days","scale":{"domain":["2","4","6"],"paddingInner":0.37,"paddingOuter":0.185}},
     "xOffset":{"field":"Treatment","type":"nominal","scale":{"domain":["without FR 180204","with FR 180204"],"paddingInner":0.302,"paddingOuter":0}},
     "y":{"field":"lo","type":"quantitative","title":"Division rates of protoplasts (%)","scale":{"domain":[0,100],"range":[588,17],"nice":false}},
     "y2":{"field":"hi"}}},
   {"data":{"name":"division"},
    "mark":{"type":"tick","color":"#000","size":36,"thickness":5,"opacity":1},
    "encoding":{
     "x":{"field":"Day","type":"nominal","title":"Days","scale":{"domain":["2","4","6"],"paddingInner":0.37,"paddingOuter":0.185}},
     "xOffset":{"field":"Treatment","type":"nominal","scale":{"domain":["without FR 180204","with FR 180204"],"paddingInner":0.302,"paddingOuter":0}},
     "y":{"field":"lo","type":"quantitative","title":"Division rates of protoplasts (%)","scale":{"domain":[0,100],"range":[588,17],"nice":false}}}},
   {"data":{"name":"division"},
    "mark":{"type":"tick","color":"#000","size":36,"thickness":5,"opacity":1},
    "encoding":{
     "x":{"field":"Day","type":"nominal","title":"Days","scale":{"domain":["2","4","6"],"paddingInner":0.37,"paddingOuter":0.185}},
     "xOffset":{"field":"Treatment","type":"nominal","scale":{"domain":["without FR 180204","with FR 180204"],"paddingInner":0.302,"paddingOuter":0}},
     "y":{"field":"hi","type":"quantitative","title":"Division rates of protoplasts (%)","scale":{"domain":[0,100],"range":[588,17],"nice":false}}}},
   {"data":{"name":"bracketsB"},
    "mark":{"type":"line","stroke":"#555","strokeWidth":2.5},
    "encoding":{
     "x":{"field":"Day","type":"nominal","title":"Days","scale":{"domain":["2","4","6"],"paddingInner":0.37,"paddingOuter":0.185}},
     "xOffset":{"field":"Treatment","type":"nominal","scale":{"domain":["without FR 180204","with FR 180204"],"paddingInner":0.302,"paddingOuter":0}},
     "y":{"field":"y","type":"quantitative","title":"Division rates of protoplasts (%)","scale":{"domain":[0,100],"range":[588,17],"nice":false}},
     "detail":{"field":"id"},
     "order":{"field":"seq","type":"quantitative"}}},
   {"data":{"name":"starsB"},
    "mark":{"type":"text","font":"Liberation Sans","fontSize":58,"color":"#222","baseline":"alphabetic","dy":32},
    "encoding":{
     "x":{"field":"Day","type":"nominal","title":"Days","scale":{"domain":["2","4","6"],"paddingInner":0.37,"paddingOuter":0.185}},
     "y":{"field":"y","type":"quantitative","title":"Division rates of protoplasts (%)","scale":{"domain":[0,100],"range":[588,17],"nice":false}},
     "text":{"field":"label"}}},
   {"data":{"name":"division"},
    "mark":{"type":"point","filled":true,"opacity":0,"size":10,"color":"#111"},
    "encoding":{
     "x":{"field":"Day","type":"nominal","title":"Days","scale":{"domain":["2","4","6"],"paddingInner":0.37,"paddingOuter":0.185}},
     "xOffset":{"field":"Treatment","type":"nominal","scale":{"domain":["without FR 180204","with FR 180204"],"paddingInner":0.302,"paddingOuter":0}},
     "y":{"field":"mean","type":"quantitative","title":"Division rates of protoplasts (%)","scale":{"domain":[0,100],"range":[588,17],"nice":false}},
     "shape":{"field":"Treatment","type":"nominal","scale":{"domain":["without FR 180204","with FR 180204"],"range":["M-5.5,-3H5.5V3H-5.5Z M-5.2,-2.7V2.7H5.2V-2.7Z M-5.5,-3h2v2h-2Z M-1.5,-3h2v2h-2Z M2.5,-3h2v2h-2Z M-3.5,-1h2v2h-2Z M0.5,-1h2v2h-2Z M4.5,-1h1v2h-1Z M-5.5,1h2v2h-2Z M-1.5,1h2v2h-2Z M2.5,1h2v2h-2Z","M-5.5,-3H5.5V3H-5.5Z M-5.2,-2.7V2.7H5.2V-2.7Z M-5.5,0L-2.5,3L-4,3L-5.5,1.5Z M-5.5,-2.5L-5.5,-3L-4.5,-3L1.5,3L0,3Z M-2,-3L-0.5,-3L5.5,3L4,3Z M2,-3L3.5,-3L5.5,-1L5.5,0.5Z"]},
      "legend":{"orient":"none","legendX":875,"legendY":16,"title":null,"symbolSize":144,"symbolFillColor":"#111","labelFontSize":46,"labelOffset":40,"rowPadding":17,"labelLimit":2000,"padding":0,
       "encode":{"symbols":{"update":{"fill":{"value":"#111"},"opacity":{"value":1},"fillOpacity":{"value":1},"strokeWidth":{"value":0}}}}}}}}
  ]
 }
]
}
